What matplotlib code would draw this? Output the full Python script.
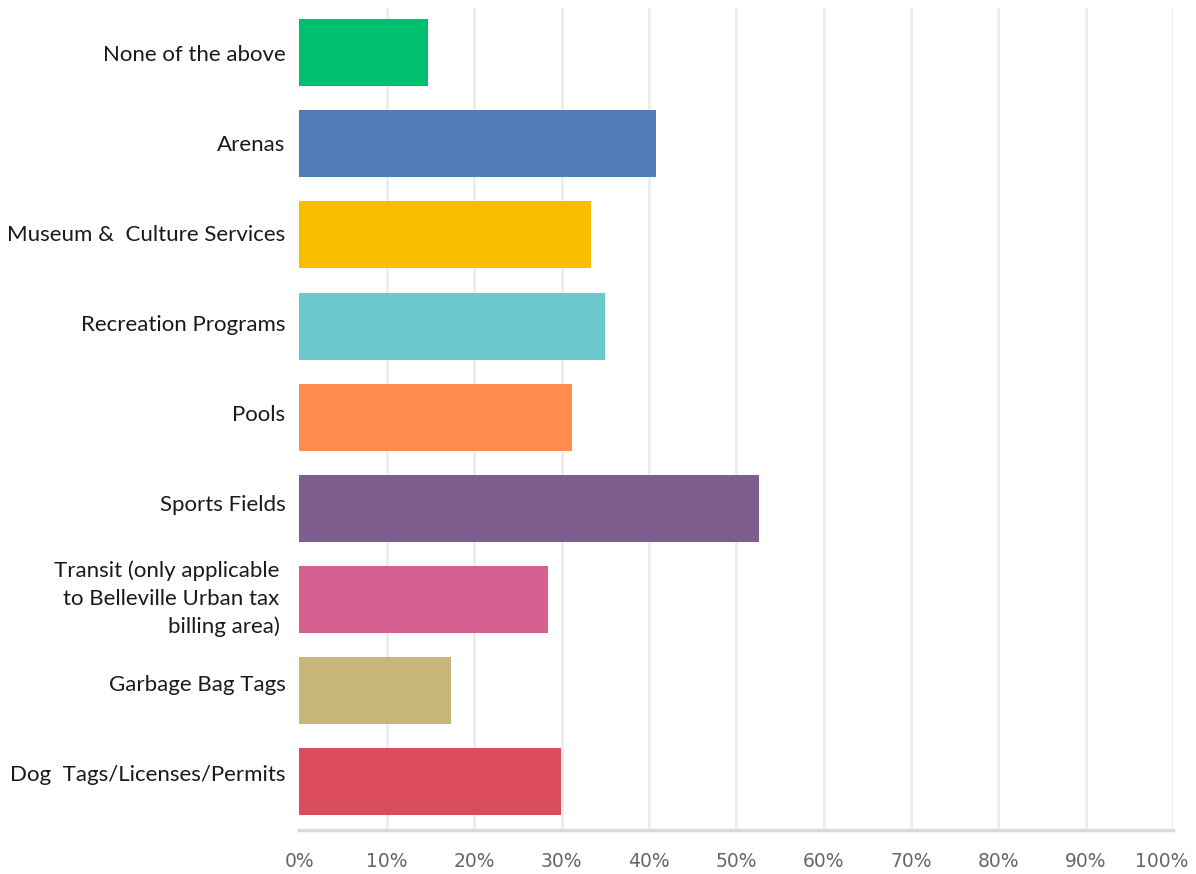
import matplotlib
matplotlib.use('Agg')
import matplotlib.pyplot as plt
import matplotlib.transforms as mtransforms
from matplotlib.ticker import FuncFormatter

# 回答の選択肢と割合（%）
categories = [
    'None of the above',
    'Arenas',
    'Museum &  Culture Services',
    'Recreation Programs',
    'Pools',
    'Sports Fields',
    'Transit (only applicable\nto Belleville Urban tax\nbilling area)',
    'Garbage Bag Tags',
    'Dog  Tags/Licenses/Permits',
]
percentages = [14.75, 40.8, 33.4, 35.0, 31.2, 52.6, 28.4, 17.3, 29.95]
colors = ['#00BF6F', '#507CB6', '#F9BE00', '#6BC8CD', '#FF8B4F',
          '#7D5E8F', '#D5608F', '#C8B67A', '#DB4D5C']
xticks = [0, 10, 20, 30, 40, 50, 60, 70, 80, 90, 100]

fig = plt.figure(figsize=(11.96, 8.74), dpi=100)
ax = fig.add_axes([0.2504, 0.0503, 0.7304, 0.9405])

ypos = list(range(len(categories)))
ax.barh(ypos, percentages, height=0.735, color=colors, zorder=3)

ax.set_xlim(0, 100)
ax.set_ylim(8.53, -0.49)

# グリッド線
ax.set_xticks(xticks)
ax.xaxis.set_major_formatter(FuncFormatter(lambda v, p: f'{int(v)}%'))
for v in xticks[1:]:
    ax.axvline(v, color='#ededed', lw=2, zorder=1)

# ラベルは少しだけ詰めて配置
label_pos = [i * 0.988 for i in ypos]
ax.set_yticks(label_pos)
ax.set_yticklabels(categories, fontsize=16, family='Lato', color='#1a1a1a',
                   multialignment='right', linespacing=1.45)
ax.tick_params(axis='y', length=0, pad=10)
ylabels = ax.get_yticklabels()
# 折り返しラベルは少し左寄せ
shift_y = mtransforms.ScaledTranslation(-6 / 100, 0, fig.dpi_scale_trans)
ylabels[6].set_transform(ylabels[6].get_transform() + shift_y)

ax.tick_params(axis='x', length=0, pad=16, labelsize=13.5, labelcolor='#666666')
xlabels = ax.get_xticklabels()
for lab in xlabels:
    lab.set_family('DejaVu Sans')
# 100% は右端からはみ出さないよう左へずらす
shift = mtransforms.ScaledTranslation(-11 / 100, 0, fig.dpi_scale_trans)
xlabels[-1].set_transform(xlabels[-1].get_transform() + shift)

for s in ['top', 'right', 'left']:
    ax.spines[s].set_visible(False)
ax.spines['bottom'].set_color('#d9d9d9')
ax.spines['bottom'].set_linewidth(2.5)

fig.savefig('out.png', dpi=100, facecolor='white')
